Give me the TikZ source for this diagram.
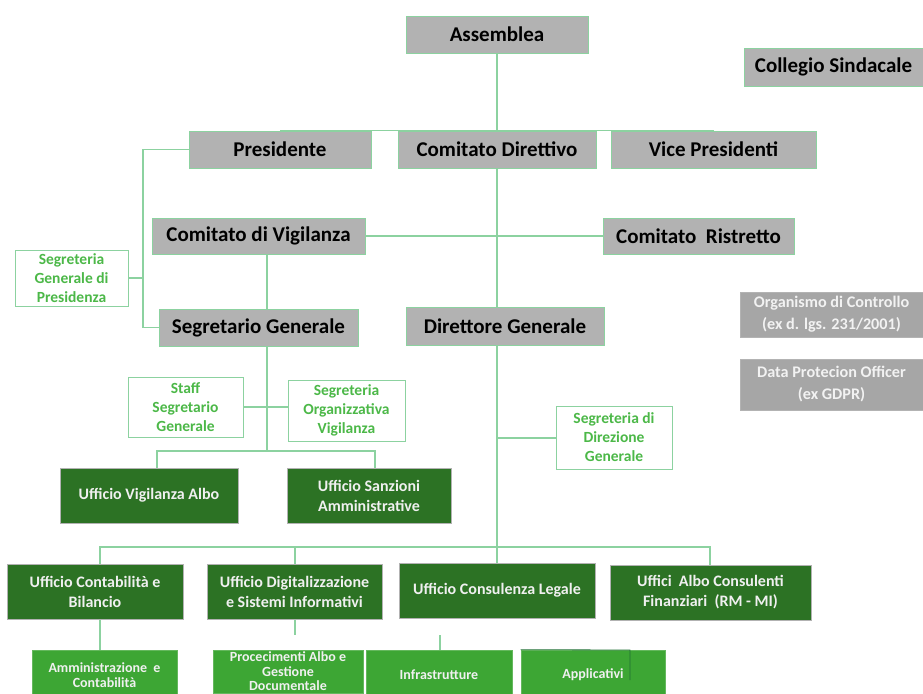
\documentclass[tikz,border=0pt]{standalone}
\usepackage{fontspec}
\setmainfont{Carlito}
\usetikzlibrary{backgrounds}
\definecolor{grayfill}{RGB}{178,178,178}
\definecolor{orgfill}{RGB}{166,166,166}
\definecolor{lgreen}{RGB}{140,210,160}
\definecolor{tgreen}{RGB}{76,184,72}
\definecolor{dkgreen}{RGB}{44,114,36}
\definecolor{ltgreen}{RGB}{61,166,52}
\definecolor{artline}{RGB}{30,110,50}
\tikzset{
  graybox/.style={fill=grayfill, draw=lgreen, line width=0.8pt, inner sep=0pt, text=black,
    font=\bfseries\fontsize{21}{24}\selectfont},
  orgbox/.style={fill=orgfill, draw=orgfill!85!white, line width=0.8pt, inner sep=0pt, text=white!95!black,
    align=center, font=\bfseries\fontsize{16.2}{22}\selectfont},
  outbox/.style={fill=white, draw=lgreen, line width=0.9pt, inner sep=0pt, text=tgreen,
    align=center, font=\bfseries\fontsize{15.5}{19}\selectfont},
  dkbox/.style={fill=dkgreen, draw=gray!60, line width=0.8pt, inner sep=0pt, text=white!94!black,
    align=center, font=\bfseries\fontsize{16}{20}\selectfont},
  ltbox/.style={fill=ltgreen, draw=ltgreen!80!white, line width=0.6pt, inner sep=0pt, text=white!94!black,
    align=center, font=\bfseries\fontsize{14}{14.5}\selectfont},
  conn/.style={draw=lgreen, line width=1.2pt},
}
\begin{document}
\begin{tikzpicture}[x=1pt,y=-1pt]
\useasboundingbox (0,0) rectangle (923,693);
% top level
\node[graybox, minimum width=182pt, minimum height=37pt] (assemblea) at (497,34.5) {Assemblea};
\node[graybox, minimum width=179pt, minimum height=38pt] (collegio) at (833.5,67) {Collegio Sindacale};
\node[graybox, minimum width=182pt, minimum height=37pt] (presidente) at (280,149.5) {Presidente};
\node[graybox, minimum width=198pt, minimum height=37pt] (direttivo) at (497,149.5) {Comitato Direttivo};
\node[graybox, minimum width=205pt, minimum height=37pt] (vice) at (713.5,149.5) {Vice Presidenti};
\node[graybox, minimum width=213pt, minimum height=36pt] (vigilanza) at (258.5,236) {Comitato di Vigilanza};
\node[graybox, minimum width=191pt, minimum height=36pt] (ristretto) at (698.5,236) {Comitato\ \ Ristretto};
\node[outbox, minimum width=113pt, minimum height=56pt] (segpres) at (71.5,278) {Segreteria\\Generale di\\Presidenza};
\node[graybox, minimum width=199pt, minimum height=37pt] (seggen) at (258.5,327.5) {Segretario Generale};
\node[graybox, minimum width=198pt, minimum height=38pt] (dirgen) at (505,326) {Direttore Generale};
\node[orgbox, minimum width=183pt, minimum height=45pt] (organismo) at (831.5,314.5) {Organismo di Controllo\\(ex d. lgs. 231/2001)};
\node[orgbox, minimum width=183pt, minimum height=51pt] (dpo) at (831.5,384.5) {Data Protecion Officer\\(ex GDPR)};
\node[outbox, minimum width=115pt, minimum height=60pt] (staff) at (185.5,407) {Staff\\Segretario\\Generale};
\node[outbox, minimum width=117pt, minimum height=61pt] (segorg) at (346.5,410.5) {Segreteria\\Organizzativa\\Vigilanza};
\node[outbox, minimum width=116pt, minimum height=63pt] (segdir) at (614,437.5) {Segreteria di\\Direzione\\Generale};
% offices
\node[dkbox, minimum width=178pt, minimum height=55pt] (uva) at (149,495.5) {Ufficio Vigilanza Albo};
\node[dkbox, minimum width=164pt, minimum height=55pt] (usa) at (369,495.5) {Ufficio Sanzioni\\Amministrative};
\node[dkbox, minimum width=176pt, minimum height=55pt] (ucb) at (95,591.5) {Ufficio Contabilità e\\Bilancio};
\node[dkbox, minimum width=175pt, minimum height=55pt] (uds) at (294.5,591.5) {Ufficio Digitalizzazione\\e Sistemi Informativi};
\node[dkbox, minimum width=196pt, minimum height=55pt] (ucl) at (497,590.5) {Ufficio Consulenza Legale};
\node[dkbox, minimum width=201pt, minimum height=55pt] (uacf) at (710.5,592.5) {Uffici\ \ Albo Consulenti\\Finanziari\ \ (RM - MI)};
% bottom row
\node[ltbox, minimum width=145pt, minimum height=50pt] (amm) at (104.5,675) {Amministrazione\ \ e\\Contabilità};
\node[ltbox, minimum width=150pt, minimum height=43pt] (proc) at (288,671.5) {Procecimenti Albo e\\Gestione\\Documentale};
\node[ltbox, minimum width=146pt, minimum height=50pt] (infra) at (439,675) {Infrastrutture};
\node[ltbox, minimum width=144pt, minimum height=50pt] (appl) at (593,675) {Applicativi};
% helper coordinates
\coordinate (xl) at (143,0);
\coordinate (xs) at (267,0);
\coordinate (xa) at (157,0);
\coordinate (xb) at (375,0);
\coordinate (ya) at (0,451);
\coordinate (yb) at (0,547);
\coordinate (x1) at (100,0);
\coordinate (x2) at (295,0);
\coordinate (x3) at (710,0);
\coordinate (xi) at (440,0);
\coordinate (ys) at (0,635);
\coordinate (yd) at (0,438);
\begin{scope}[on background layer]
  \draw[conn] (assemblea.south) -- (direttivo.north);
  \draw[conn] (presidente.north) -- (vice.north);
  \draw[conn] (direttivo.south) -- (direttivo.south |- dirgen.north);
  \draw[conn] (direttivo.south |- dirgen.south) -- (ucl.north);
  \draw[conn] (vigilanza.east) -- (ristretto.west);
  \draw[conn] (presidente.west) -- (presidente.west -| xl) -- (seggen.west -| xl) -- (seggen.west);
  \draw[conn] (segpres.east) -- (segpres.east -| xl);
  \draw[conn] (vigilanza.south -| xs) -- (seggen.north -| xs);
  \draw[conn] (seggen.south -| xs) -- (xs |- ya);
  \draw[conn] (staff.east) -- (segorg.west |- staff.east);
  \draw[conn] (uva.north -| xa) -- (xa |- ya) -- (xb |- ya) -- (usa.north -| xb);
  \draw[conn] (ucl.north |- yd) -- (segdir.west |- yd);
  \draw[conn] (ucb.north -| x1) -- (x1 |- yb) -- (x3 |- yb) -- (uacf.north -| x3);
  \draw[conn] (x2 |- yb) -- (uds.north -| x2);
  \draw[conn] (ucb.south -| x1) -- (amm.north -| x1);
  \draw[conn] (uds.south -| x2) -- (x2 |- ys);
  \draw[conn] (xi |- ys) -- (infra.north -| xi);
\end{scope}
\draw[artline, line width=0.8pt] (appl.north west) -- (630,650) -- (630,680);
\end{tikzpicture}
\end{document}
